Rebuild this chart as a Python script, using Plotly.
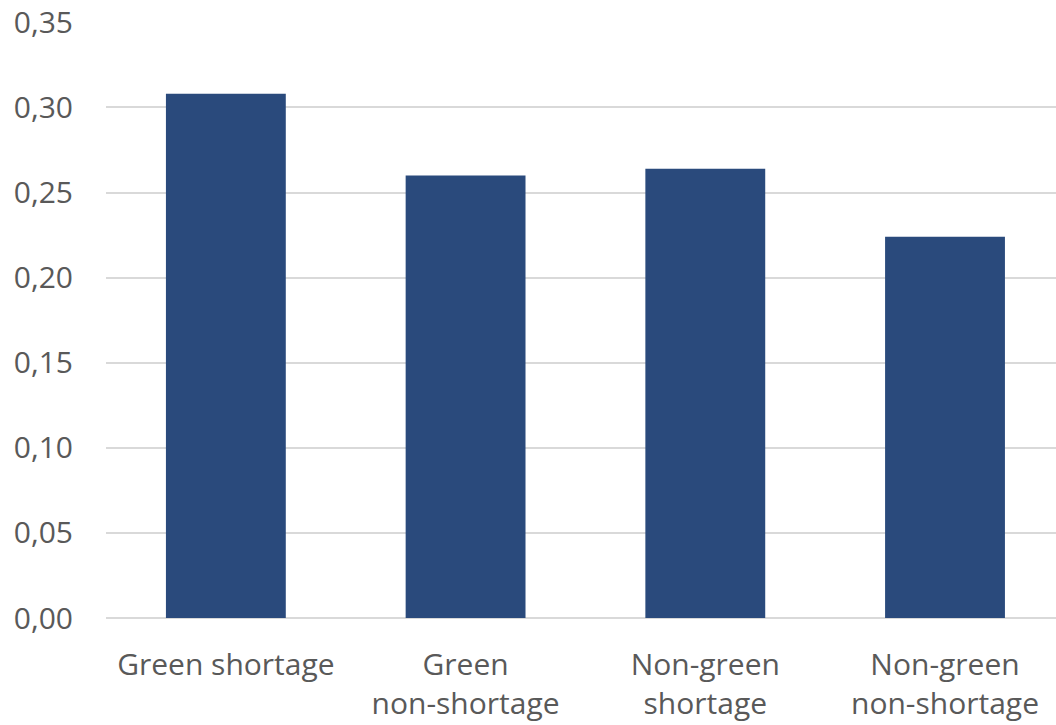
import plotly.graph_objects as go

categories = ["Green shortage", "Green<br>non-shortage", "Non-green<br>shortage", "Non-green<br>non-shortage"]
values = [0.308, 0.260, 0.264, 0.224]
y_ticks = [0.00, 0.05, 0.10, 0.15, 0.20, 0.25, 0.30, 0.35]

fig = go.Figure(go.Bar(
    x=list(range(len(categories))),
    y=values,
    marker=dict(color="#2A4A7C", line=dict(width=0)),
    width=0.5,
))

fig.update_layout(
    width=1056, height=725,
    margin=dict(l=106, r=0, t=22, b=107),
    paper_bgcolor="white", plot_bgcolor="white",
    font=dict(family="Open Sans", size=30, color="#595959"),
    separators=",.",
    showlegend=False,
    xaxis=dict(
        tickmode="array",
        tickvals=list(range(len(categories))),
        ticktext=categories,
        range=[-0.5, 3.463],
        showgrid=False, zeroline=False, showline=False,
        ticks="", ticklabelstandoff=26,
        tickfont=dict(size=30, color="#595959"),
        fixedrange=True,
    ),
    yaxis=dict(
        range=[0, 0.3502],
        tickmode="array", tickvals=y_ticks,
        tickformat=".2f",
        showgrid=True, gridcolor="#D9D9D9", gridwidth=1.5,
        zeroline=True, zerolinecolor="#D9D9D9", zerolinewidth=1.5,
        showline=False, ticks="", ticklabelstandoff=32,
        tickfont=dict(size=30, color="#595959"),
        fixedrange=True,
    ),
)

fig.write_html("out.html")
